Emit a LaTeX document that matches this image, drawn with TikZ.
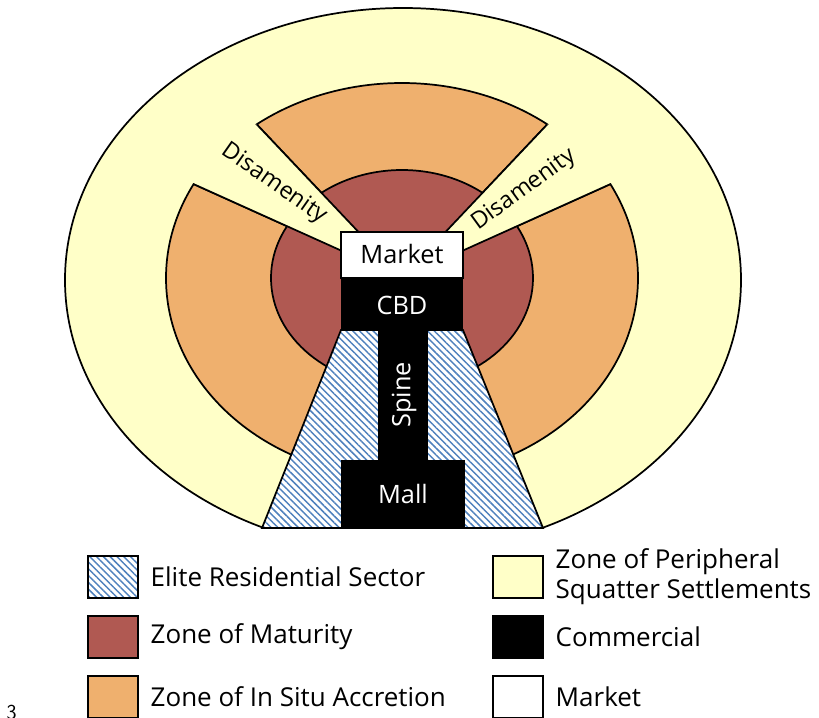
\documentclass[tikz,border=0pt]{standalone}
\usepackage{fontspec}
\setmainfont{Open Sans}
\usetikzlibrary{patterns.meta,calc}
\definecolor{squatter}{RGB}{255,255,200}
\definecolor{accretion}{RGB}{239,176,110}
\definecolor{maturity}{RGB}{176,89,82}
\definecolor{elite}{RGB}{79,129,189}
\tikzset{
  zone/.style={draw=black, line width=1.3pt, line join=miter},
  hatch/.style={pattern={Lines[angle=-45,distance=3.6pt,line width=1.1pt]}, pattern color=elite},
  swatch/.style={zone, minimum width=37pt, minimum height=31pt},
  keytext/.style={anchor=west, font=\fontsize{19.5}{22.5}\selectfont, align=left},
  inlabel/.style={font=\fontsize{19}{22}\selectfont}
}
\begin{document}
\begin{tikzpicture}[x=0.75pt, y=-0.75pt]
  \useasboundingbox (0,0) rectangle (819,718);
  % outer zone
  \begin{scope}
    \clip (0,0) rectangle (819,528);
    \draw[zone, fill=squatter] (403,280) ellipse [x radius=338, y radius=272];
  \end{scope}
  % in situ accretion sectors
  \coordinate (apex) at (402,278);
  \draw[zone, fill=accretion] (apex) -- ($(apex)+({236*cos(-52)},{195*sin(-52)})$)
    arc[start angle=-52, end angle=-128, x radius=236, y radius=195] -- cycle;
  \draw[zone, fill=accretion] (apex) -- ($(apex)+({236*cos(-152)},{200*sin(-152)})$)
    arc[start angle=-152, end angle=-250, x radius=236, y radius=200] -- cycle;
  \draw[zone, fill=accretion] (apex) -- ($(apex)+({236*cos(-28)},{200*sin(-28)})$)
    arc[start angle=-28, end angle=70, x radius=236, y radius=200] -- cycle;
  % maturity
  \draw[zone, fill=maturity] (apex) ellipse [x radius=131, y radius=108];
  % disamenity gaps
  \coordinate (tl) at ($(apex)+({236*cos(-128)},{195*sin(-128)})$);
  \coordinate (tr) at ($(apex)+({236*cos(-52)},{195*sin(-52)})$);
  \coordinate (sl) at ($(apex)+({236*cos(-152)},{200*sin(-152)})$);
  \coordinate (sr) at ($(apex)+({236*cos(-28)},{200*sin(-28)})$);
  \fill[squatter] (apex) -- (tl) -- (sl) -- cycle;
  \fill[squatter] (apex) -- (tr) -- (sr) -- cycle;
  \draw[zone] (tl) -- (apex) -- (sl);
  \draw[zone] (tr) -- (apex) -- (sr);
  % core
  \draw[zone, fill=white] (341,232) rectangle (463,278);
  \fill[black] (341,278) rectangle (463,331);
  \fill[white] (262,528) -- (341,330) -- (463,330) -- (543,528) -- cycle;
  \draw[zone, hatch] (262,528) -- (341,330) -- (463,330) -- (543,528) -- cycle;
  \fill[black] (378,329) rectangle (428,462);
  \fill[black] (341,460) rectangle (465,529);
  \node[inlabel] (market) at (402,254) {Market};
  \node[inlabel, text=white] (cbd) at (402,305) {CBD};
  \node[inlabel, text=white, rotate=90] (spine) at (404,395) {Spine};
  \node[inlabel, text=white] (mall) at (403,494) {Mall};
  \node[inlabel, font=\fontsize{17.5}{20}\selectfont, rotate=-35] (disL) at (274,184) {Disamenity};
  \node[inlabel, font=\fontsize{17.5}{20}\selectfont, rotate=36] (disR) at (524,190) {Disamenity};
  % key
  \node[swatch, hatch] (kElite) at (113,577) {};
  \node[swatch, fill=maturity] (kMature) at (113,637) {};
  \node[swatch, fill=accretion] (kAccr) at (113,697) {};
  \node[swatch, fill=squatter] (kSquat) at (518,577) {};
  \node[swatch, fill=black] (kComm) at (518,637) {};
  \node[swatch, fill=white] (kMarket) at (518,697) {};
  \node[keytext] (tElite) at (146,577) {Elite Residential Sector};
  \node[keytext] (tMature) at (146,637) {Zone of Maturity};
  \node[keytext] (tAccr) at (146,697) {Zone of In Situ Accretion};
  \node[keytext] (tSquat) at (551,577) {Zone of Peripheral\\Squatter Settlements};
  \node[keytext] (tComm) at (551,637) {Commercial};
  \node[keytext] (tMarket) at (551,697) {Market};
  \node[font=\sffamily\fontsize{16}{18}\selectfont, anchor=north west] (fig) at (2,700) {3};
\end{tikzpicture}
\end{document}
